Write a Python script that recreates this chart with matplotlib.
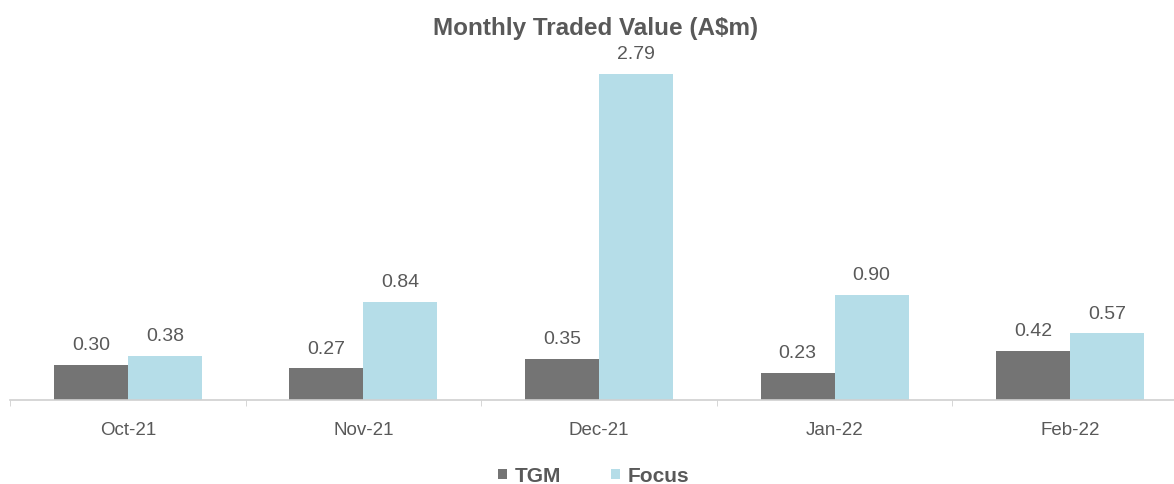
import numpy as np
import matplotlib.pyplot as plt

plt.rcParams['font.family'] = ['Liberation Sans', 'DejaVu Sans']

months = ["Oct-21", "Nov-21", "Dec-21", "Jan-22", "Feb-22"]
tgm = [0.30, 0.27, 0.35, 0.23, 0.42]
focus = [0.38, 0.84, 2.79, 0.90, 0.57]

c_tgm = '#747474'
c_focus = '#b5dde8'
txt = '#595959'

fig = plt.figure(figsize=(11.74, 4.85), dpi=100)
# axis runs slightly past the right edge of the picture, as in the original
ax = fig.add_axes([10/1174, 84/485, 1178/1174, 341/485])

x = np.arange(len(months))
w = 0.314
b1 = ax.bar(x - w/2, tgm, w, color=c_tgm, label='TGM')
b2 = ax.bar(x + w/2, focus, w, color=c_focus, label='Focus')

for bars, vals in [(b1, tgm), (b2, focus)]:
    for r, v in zip(bars, vals):
        ax.text(r.get_x() + r.get_width()/2, v + 0.1, f"{v:.2f}",
                ha='center', va='bottom', fontsize=14, color=txt)

ax.set_xlim(-0.5, len(months) - 0.5)
ax.set_ylim(0, 341/116.8)
ax.set_xticks(x)
ax.set_xticklabels(months, fontsize=13.5, color=txt)
ax.set_xticks(np.arange(len(months) + 1) - 0.5, minor=True)
ax.tick_params(axis='x', which='major', length=0, pad=15)
ax.tick_params(axis='x', which='minor', length=4, color='#d0d0d0')
ax.set_yticks([])
for s in ['top', 'right', 'left']:
    ax.spines[s].set_visible(False)
ax.spines['bottom'].set_color('#d0d0d0')
ax.spines['bottom'].set_linewidth(1.2)

fig.text(596/1174, 1 - 28/485, "Monthly Traded Value (A$m)", ha='center', va='center',
         fontsize=17.5, fontweight='bold', color=txt)

leg = fig.legend(loc='center', bbox_to_anchor=(594/1174, 1 - 477/485), ncol=2,
                 frameon=False, handlelength=0.4, handleheight=0.4,
                 columnspacing=2.4, handletextpad=0.4,
                 prop={'size': 15, 'weight': 'bold'})
for t in leg.get_texts():
    t.set_color(txt)

fig.savefig('out.png', dpi=100)
